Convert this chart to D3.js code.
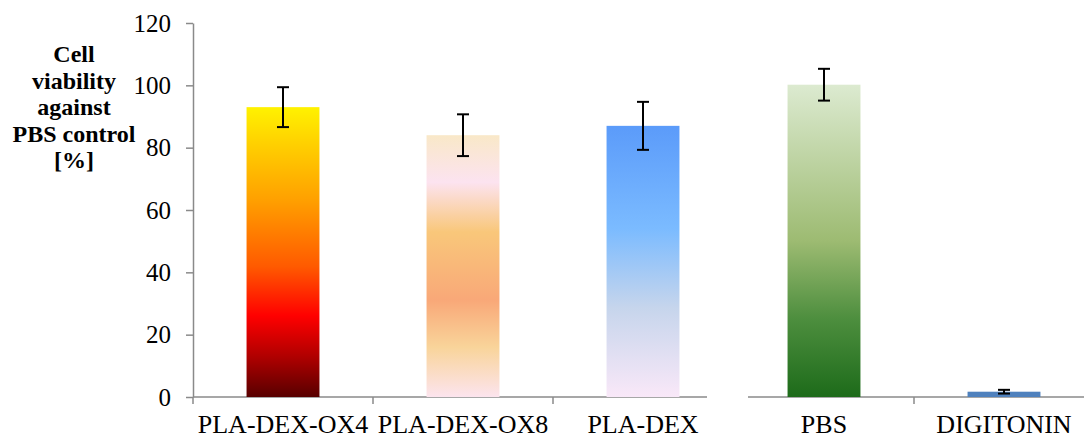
<!DOCTYPE html>
<html>
<head>
<meta charset="utf-8">
<script src="https://cdn.jsdelivr.net/npm/d3@7"></script>
<style>
  html, body { margin: 0; padding: 0; background: #fff; }
  svg { display: block; }
</style>
</head>
<body>
<svg id="chart" width="1084" height="439"></svg>
<script>
// Treatment groups (left panel) and controls (right panel)
const groupsLeft = ["PLA-DEX-OX4", "PLA-DEX-OX8", "PLA-DEX"];
const valuesLeft = [93.0, 84.0, 87.0];
const errorsLeft = [6.4, 6.7, 7.7];

const groupsRight = ["PBS", "DIGITONIN"];
const valuesRight = [100.2, 1.7];
const errorsRight = [5.1, 0.6];

const yTicks = [0, 20, 40, 60, 80, 100, 120];
const yLabelLines = ["Cell", "viability", "against", "PBS control", "[%]"];

// Fill gradients for each bar (top to bottom)
const fills = {
  "PLA-DEX-OX4": [[0, "#fff200"], [0.12, "#ffd200"], [0.32, "#ffa000"], [0.55, "#ff5a00"], [0.72, "#ff0000"], [0.86, "#b00000"], [1, "#580000"]],
  "PLA-DEX-OX8": [[0, "#f9e8c8"], [0.18, "#fce3f0"], [0.37, "#f9c77a"], [0.63, "#f9a878"], [0.81, "#f9d49a"], [1, "#fce4ee"]],
  "PLA-DEX":     [[0, "#5b9bfa"], [0.38, "#7bbbff"], [0.67, "#c6d5ec"], [1, "#f9e8f8"]],
  "PBS":         [[0, "#dcead0"], [0.5, "#9dbb72"], [0.75, "#4d8e3e"], [1, "#1d6b1a"]],
  "DIGITONIN":   [[0, "#4f81bd"], [1, "#4f81bd"]]
};

const serif = "Liberation Serif";
const svg = d3.select("#chart");
const axisColor = "#8a8a8a";

const y = d3.scaleLinear().domain([0, 120]).range([397, 23]);

const pad = 0.595;
const xLeft = d3.scaleBand().domain(groupsLeft).range([193, 733])
  .paddingInner(pad).paddingOuter(pad / 2);
const xRight = d3.scaleBand().domain(groupsRight).range([734, 1094])
  .paddingInner(pad).paddingOuter(pad / 2);

// gradients
const defs = svg.append("defs");
Object.entries(fills).forEach(([name, stops], i) => {
  const g = defs.append("linearGradient")
    .attr("id", "grad" + i)
    .attr("x1", 0).attr("y1", 0).attr("x2", 0).attr("y2", 1);
  stops.forEach(([o, c]) => g.append("stop").attr("offset", o).attr("stop-color", c));
});
const gradId = name => "url(#grad" + Object.keys(fills).indexOf(name) + ")";

// Y axis
const yAxis = d3.axisLeft(y).tickValues(yTicks).tickSize(7).tickPadding(15).tickSizeOuter(0);
const gy = svg.append("g").attr("transform", "translate(193,0)").call(yAxis)
  .attr("font-family", serif).attr("font-size", 25);
gy.select(".domain").attr("stroke", axisColor).attr("stroke-width", 1.5);
gy.selectAll(".tick line").attr("stroke", axisColor).attr("stroke-width", 1.5);
gy.selectAll(".tick text").attr("fill", "#000");

// Y label (bold serif)
const yl = svg.append("text")
  .attr("text-anchor", "middle")
  .attr("font-family", serif)
  .attr("font-size", 24)
  .attr("font-weight", "bold")
  .attr("fill", "#000");
yLabelLines.forEach((t, i) => {
  yl.append("tspan").attr("x", 74).attr("y", 62 + i * 26.5).text(t);
});

// Panels
function panel(x, groups, values, errors, lineX0, lineX1) {
  const base = y(0);
  // baseline
  svg.append("line")
    .attr("x1", lineX0).attr("x2", lineX1)
    .attr("y1", base).attr("y2", base)
    .attr("stroke", axisColor).attr("stroke-width", 1.5);
  // category boundary ticks
  const bounds = groups.map(g => x(g) - x.step() * x.paddingInner() / 2)
    .concat([x.range()[1]]);
  svg.selectAll(null).data(bounds.filter(b => b >= lineX0 - 0.5 && b <= lineX1 + 0.5))
    .enter().append("line")
    .attr("x1", d => d).attr("x2", d => d)
    .attr("y1", base).attr("y2", base + 7)
    .attr("stroke", axisColor).attr("stroke-width", 1.5);
  // bars
  svg.selectAll(null).data(groups).enter().append("rect")
    .attr("x", d => x(d))
    .attr("width", x.bandwidth())
    .attr("y", (d, i) => y(values[i]))
    .attr("height", (d, i) => base - y(values[i]))
    .attr("fill", d => gradId(d));
  // error bars
  const eb = svg.selectAll(null).data(groups).enter().append("g")
    .attr("stroke", "#000").attr("stroke-width", 2);
  const cx = d => x(d) + x.bandwidth() / 2;
  eb.append("line")
    .attr("x1", cx).attr("x2", cx)
    .attr("y1", (d, i) => y(values[i] + errors[i]))
    .attr("y2", (d, i) => y(values[i] - errors[i]));
  eb.append("line")
    .attr("x1", d => cx(d) - 6).attr("x2", d => cx(d) + 6)
    .attr("y1", (d, i) => y(values[i] + errors[i]))
    .attr("y2", (d, i) => y(values[i] + errors[i]));
  eb.append("line")
    .attr("x1", d => cx(d) - 6).attr("x2", d => cx(d) + 6)
    .attr("y1", (d, i) => y(values[i] - errors[i]))
    .attr("y2", (d, i) => y(values[i] - errors[i]));
  // category labels
  svg.selectAll(null).data(groups).enter().append("text")
    .attr("x", cx)
    .attr("y", 433)
    .attr("text-anchor", "middle")
    .attr("font-family", serif)
    .attr("font-size", 26)
    .attr("fill", "#000")
    .text(d => d);
}

panel(xLeft, groupsLeft, valuesLeft, errorsLeft, 193, 707);
panel(xRight, groupsRight, valuesRight, errorsRight, 748, 1084);
</script>
</body>
</html>
